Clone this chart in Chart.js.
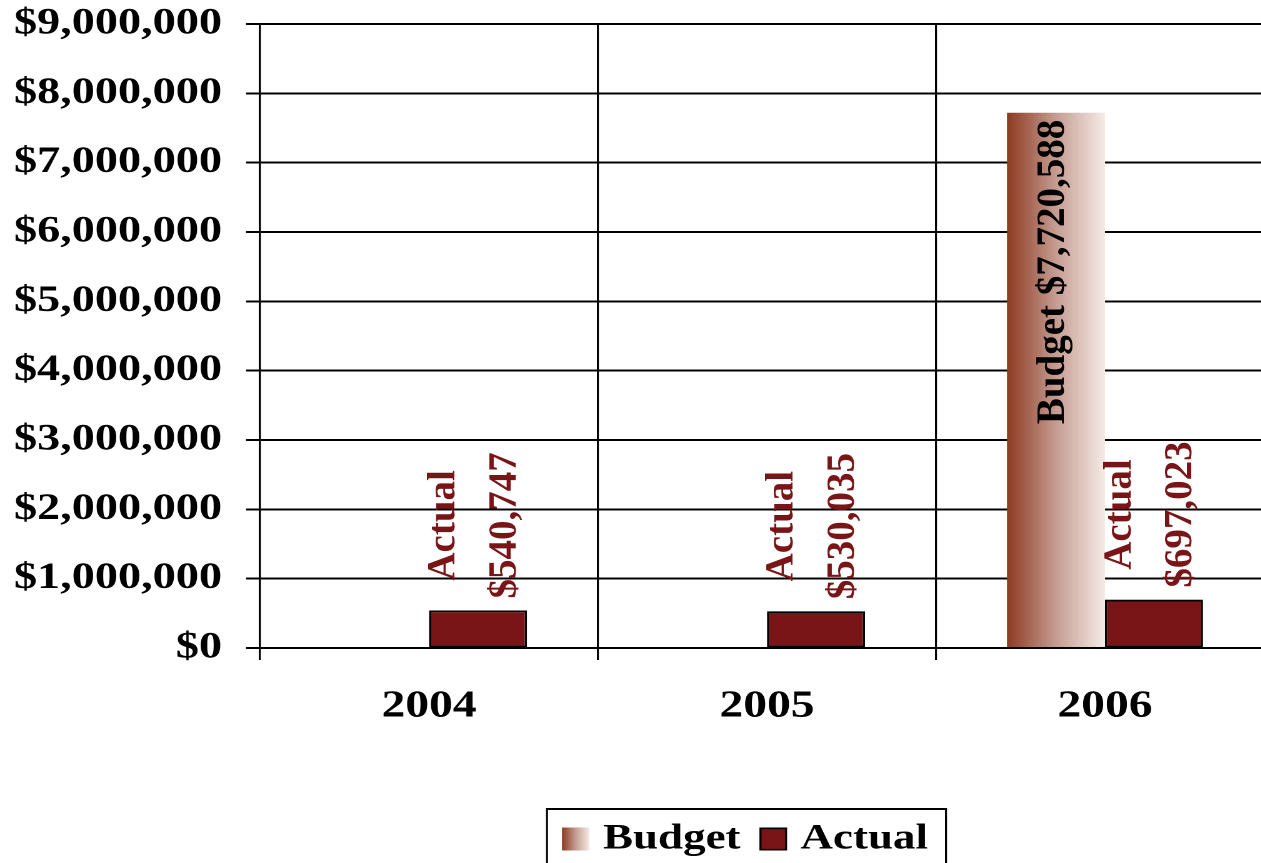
<!DOCTYPE html>
<html>
<head>
<meta charset="utf-8">
<title>Budget vs Actual</title>
<script src="https://cdn.jsdelivr.net/npm/chart.js@4/dist/chart.umd.min.js"></script>
<style>
  html, body { margin: 0; padding: 0; background: #fff; overflow: hidden; width: 1261px; height: 863px; }
  #chart { display: block; transform-origin: 0 0; }
</style>
</head>
<body>
<canvas id="chart" width="1030" height="870"></canvas>
<script>
// ---- data ----
const years = ['2004', '2005', '2006'];
const budget = [null, null, 7720588];
const actual = [540747, 530035, 697023];
const yTickValues = [0, 1000000, 2000000, 3000000, 4000000, 5000000, 6000000, 7000000, 8000000, 9000000];

// ---- look ----
// Horizontal text is set in a wide face: the whole canvas is widened by STRETCH,
// and the rotated value labels undo that widening so their glyphs keep normal proportions.
const STRETCH = 1.25;
const FONT = '"Liberation Serif", "Times New Roman", serif';
const ACTUAL_RED = '#7a1517';
const BUDGET_STOPS = [[0, '#8e3a22'], [0.5, '#c59d92'], [1, '#f5ece7']];
const LEGEND_CENTER = 592.4;   // horizontal centre of the legend row (canvas units)
const LEGEND_FONT = 36;
const LEGEND_PAD = 8;
const LEGEND_BOX = { w: 22, h: 23 };
const SWATCH_GAP = 10.8;       // space between a swatch and its text

document.getElementById('chart').style.transform = 'scaleX(' + STRETCH + ')';

function budgetGradient(ctx, left, right) {
  if (!isFinite(left) || !isFinite(right) || right <= left) return BUDGET_STOPS[0][1];
  const g = ctx.createLinearGradient(left, 0, right, 0);
  BUDGET_STOPS.forEach(([p, c]) => g.addColorStop(p, c));
  return g;
}

const money = v => '$' + v.toLocaleString('en-US');

const CAT_PCT = 0.58;

// rotated value labels above / inside the bars
const valueLabels = {
  id: 'valueLabels',
  afterDatasetsDraw(chart) {
    const ctx = chart.ctx;
    chart.data.datasets.forEach((ds, di) => {
      const meta = chart.getDatasetMeta(di);
      meta.data.forEach((bar, i) => {
        const v = ds.data[i];
        if (v == null) return;
        ctx.save();
        ctx.translate(bar.x, bar.y);
        ctx.scale(1 / STRETCH, 1);
        ctx.rotate(-Math.PI / 2);
        ctx.font = 'bold 39px ' + FONT;
        ctx.textBaseline = 'alphabetic';
        if (di === 0) {
          ctx.fillStyle = '#000';
          ctx.textAlign = 'right';
          ctx.fillText(ds.label + ' ' + money(v), -7, 8);
        } else {
          ctx.fillStyle = ACTUAL_RED;
          ctx.textAlign = 'center';
          const lines = [ds.label, money(v)];
          const w = Math.max(...lines.map(t => ctx.measureText(t).width));
          ctx.fillText(lines[0], 12 + w / 2, -23.5);
          ctx.fillText(lines[1], 12 + w / 2, 37.5);
        }
        ctx.restore();
      });
    });
  }
};

// Budget gradient, legend placement, legend swatches and the frame around the legend
const legendAndFill = {
  id: 'legendAndFill',
  beforeDraw(chart) {
    const ctx = chart.ctx;
    chart.getDatasetMeta(0).data.forEach((bar) => {
      if (!bar || !bar.options) return;
      const half = bar.width / 2;
      bar.options.backgroundColor = budgetGradient(ctx, bar.x - half, bar.x + half);
    });
    const lg = chart.legend;
    if (!lg || !lg.legendItems || !lg.legendItems.length) return;
    const d = LEGEND_CENTER - (lg.left + lg.right) / 2;
    if (Math.abs(d) > 0.01) {
      lg.left += d;
      lg.right += d;
    }
    // the swatches are painted in afterDraw, closer to their text
    lg.legendItems.forEach((it) => {
      it.fillStyle = 'rgba(0,0,0,0)';
      it.strokeStyle = 'rgba(0,0,0,0)';
      it.lineWidth = 0;
    });
  },
  afterDraw(chart) {
    const lg = chart.legend;
    if (!lg || !lg.legendItems || lg.legendItems.length < 2) return;
    const ctx = chart.ctx;
    const itemH = Math.max(LEGEND_FONT, LEGEND_BOX.h);
    const rowTop = lg.top + LEGEND_PAD;

    // item widths, laid out the way the legend lays them out
    ctx.save();
    ctx.font = 'bold ' + LEGEND_FONT + 'px ' + FONT;
    const widths = lg.legendItems.map(it => LEGEND_BOX.w + LEGEND_FONT / 2 + ctx.measureText(it.text).width);
    const rowW = widths.reduce((a, b) => a + b + LEGEND_PAD, 0);
    let x = (lg.left + LEGEND_PAD + lg.right - rowW) / 2;
    const lefts = widths.map(w => { const l = x; x += w + LEGEND_PAD; return l; });

    const swatchLeft = (l) => l + LEGEND_BOX.w + LEGEND_FONT / 2 - SWATCH_GAP - LEGEND_BOX.w;
    const swatchTop = rowTop + (itemH - LEGEND_BOX.h) / 2;

    // Budget swatch
    const s0 = swatchLeft(lefts[0]);
    ctx.fillStyle = budgetGradient(ctx, s0, s0 + LEGEND_BOX.w);
    ctx.fillRect(s0, swatchTop, LEGEND_BOX.w, LEGEND_BOX.h);
    // Actual swatch
    const s1 = swatchLeft(lefts[1]);
    ctx.fillStyle = ACTUAL_RED;
    ctx.fillRect(s1, swatchTop, LEGEND_BOX.w, LEGEND_BOX.h);
    ctx.strokeStyle = '#000';
    ctx.lineWidth = 1.6;
    ctx.strokeRect(s1 + 0.8, swatchTop + 0.8, LEGEND_BOX.w - 1.6, LEGEND_BOX.h - 1.6);

    // frame
    const left = s0 - 12;
    const right = lefts[1] + widths[1] + 14.4;
    const top = rowTop - 12;
    const bottom = chart.height + 10;
    ctx.lineWidth = 2;
    ctx.beginPath();
    ctx.moveTo(left - 0.8, top);
    ctx.lineTo(right + 0.8, top);
    ctx.stroke();
    ctx.lineWidth = 1.6;
    ctx.beginPath();
    ctx.moveTo(left, top);
    ctx.lineTo(left, bottom);
    ctx.moveTo(right, top);
    ctx.lineTo(right, bottom);
    ctx.stroke();
    ctx.restore();
  }
};

new Chart(document.getElementById('chart'), {
  type: 'bar',
  data: {
    labels: years,
    datasets: [
      {
        label: 'Budget',
        data: budget,
        // one option object per bar so each Budget bar can carry its own gradient
        backgroundColor: () => BUDGET_STOPS[0][1],
        borderWidth: 0,
        categoryPercentage: CAT_PCT,
        barPercentage: 1
      },
      {
        label: 'Actual',
        data: actual,
        backgroundColor: ACTUAL_RED,
        borderColor: '#000',
        borderWidth: 1.8,
        borderSkipped: false,
        categoryPercentage: CAT_PCT,
        barPercentage: 1
      }
    ]
  },
  options: {
    responsive: false,
    devicePixelRatio: 2,
    animation: false,
    events: [],
    layout: { padding: { left: 8, right: 10.8, top: 24, bottom: 3 } },
    scales: {
      x: {
        grid: { color: '#000', lineWidth: 1.6, tickLength: 12, offset: true },
        border: { color: '#000', width: 2 },
        ticks: {
          color: '#000',
          font: { family: FONT, size: 38, weight: 'bold' },
          padding: 24,
          maxRotation: 0
        },
        afterFit: (s) => { s.height = 165; }
      },
      y: {
        min: yTickValues[0],
        max: yTickValues[yTickValues.length - 1],
        afterBuildTicks: (s) => { s.ticks = yTickValues.map(v => ({ value: v })); },
        grid: { color: '#000', lineWidth: 2, tickLength: 11.2 },
        border: { color: '#000', width: 1.6 },
        ticks: {
          color: '#000',
          font: { family: FONT, size: 37, weight: 'bold', lineHeight: 0.2 },
          padding: 19.2,
          callback: (v) => money(v)
        },
        afterFit: (s) => { s.width = 200; }
      }
    },
    plugins: {
      legend: {
        position: 'bottom',
        labels: {
          color: '#000',
          font: { family: FONT, size: LEGEND_FONT, weight: 'bold' },
          boxWidth: LEGEND_BOX.w,
          boxHeight: LEGEND_BOX.h,
          padding: LEGEND_PAD
        }
      },
      tooltip: { enabled: false }
    }
  },
  plugins: [valueLabels, legendAndFill]
});
</script>
</body>
</html>
